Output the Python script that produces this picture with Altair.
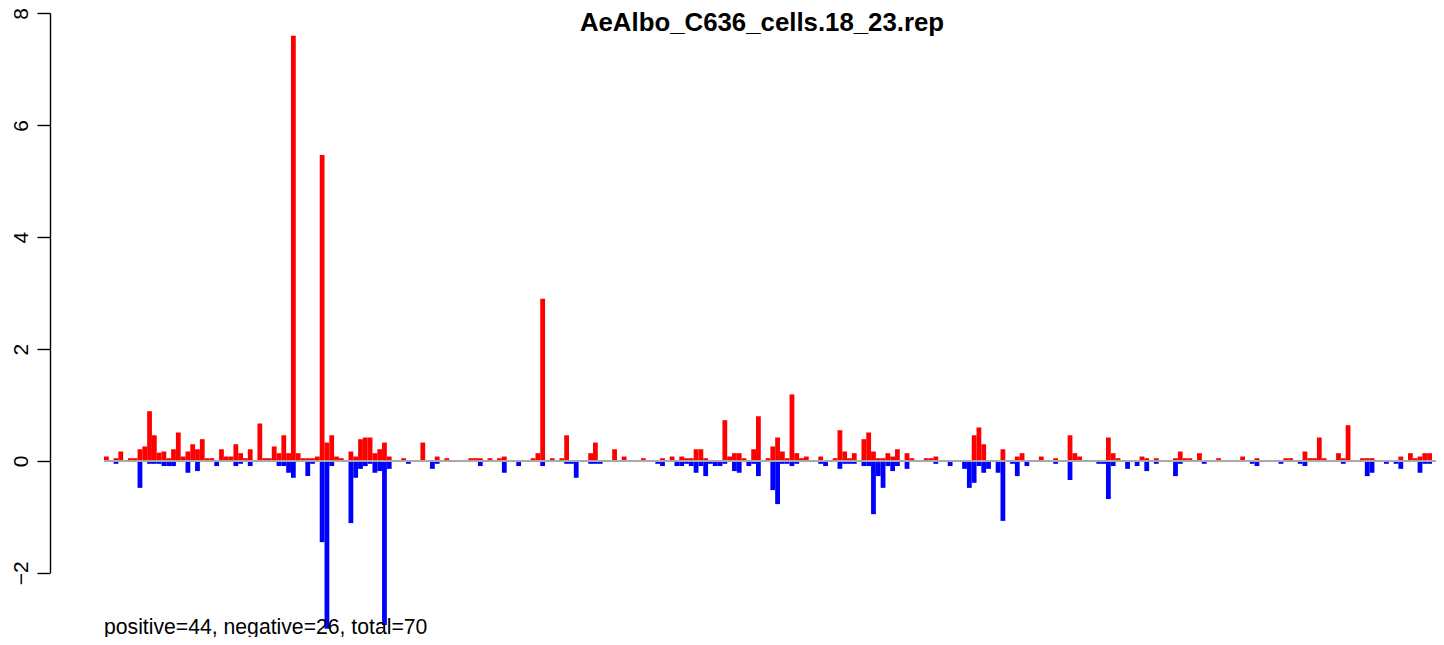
import altair as alt
import pandas as pd

title_text = "AeAlbo_C636_cells.18_23.rep"
note_text = "positive=44, negative=26, total=70"
n_bins = 277
y_ticks = [-2, 0, 2, 4, 6, 8]

# red (positive strand) bars: bin index and height
plus_idx = [0, 2, 3, 5, 6, 7, 8, 9, 10, 11, 12, 13, 14, 15, 16, 17, 18, 19, 20, 21,
            22, 24, 25, 26, 27, 28, 29, 30, 32, 33, 34, 35, 36, 37, 38, 39, 40, 41, 42, 43,
            44, 45, 46, 47, 48, 49, 51, 52, 53, 54, 55, 56, 57, 58, 59, 62, 66, 69, 71, 76,
            77, 78, 80, 82, 83, 89, 90, 91, 93, 95, 96, 101, 102, 106, 108, 112, 116, 118, 120, 121,
            122, 123, 124, 125, 129, 130, 131, 132, 133, 135, 136, 138, 139, 140, 141, 142, 143, 144, 145, 146,
            149, 152, 153, 154, 155, 156, 158, 159, 160, 161, 162, 163, 164, 165, 167, 168, 171, 172, 173, 181,
            182, 183, 187, 190, 191, 195, 198, 201, 202, 203, 209, 210, 211, 216, 217, 219, 223, 224, 225, 226,
            228, 232, 237, 240, 246, 247, 250, 251, 252, 253, 254, 257, 258, 259, 262, 263, 264, 270, 272, 273,
            274, 275, 276]
plus_val = [0.08, 0.05, 0.17, 0.05, 0.05, 0.21, 0.26, 0.89, 0.46, 0.15, 0.17, 0.05, 0.21, 0.51, 0.08, 0.17, 0.30, 0.21, 0.39, 0.05,
            0.05, 0.21, 0.08, 0.08, 0.30, 0.14, 0.05, 0.21, 0.67, 0.05, 0.05, 0.26, 0.14, 0.46, 0.14, 7.60, 0.14, 0.05, 0.05, 0.05,
            0.08, 5.47, 0.33, 0.46, 0.08, 0.05, 0.17, 0.08, 0.39, 0.42, 0.42, 0.14, 0.21, 0.33, 0.08, 0.05, 0.33, 0.08, 0.05, 0.05,
            0.05, 0.05, 0.05, 0.05, 0.08, 0.05, 0.14, 2.90, 0.05, 0.05, 0.46, 0.14, 0.33, 0.21, 0.08, 0.05, 0.05, 0.08, 0.08, 0.05,
            0.05, 0.21, 0.21, 0.05, 0.73, 0.08, 0.14, 0.14, 0.05, 0.21, 0.80, 0.05, 0.26, 0.42, 0.17, 0.05, 1.19, 0.14, 0.05, 0.08,
            0.08, 0.05, 0.55, 0.17, 0.05, 0.14, 0.39, 0.51, 0.17, 0.05, 0.05, 0.14, 0.08, 0.21, 0.14, 0.05, 0.05, 0.05, 0.08, 0.46,
            0.60, 0.30, 0.21, 0.08, 0.14, 0.08, 0.05, 0.46, 0.14, 0.08, 0.42, 0.14, 0.05, 0.08, 0.05, 0.05, 0.05, 0.17, 0.05, 0.05,
            0.14, 0.05, 0.08, 0.05, 0.05, 0.05, 0.17, 0.05, 0.05, 0.42, 0.05, 0.14, 0.05, 0.64, 0.05, 0.05, 0.05, 0.08, 0.14, 0.05,
            0.08, 0.14, 0.14]

# blue (negative strand) bars: bin index and depth
minus_idx = [2, 7, 9, 10, 11, 12, 13, 14, 17, 19, 23, 27, 28, 30, 36, 37, 38, 39, 42, 43,
             45, 46, 47, 51, 52, 53, 54, 55, 56, 57, 58, 59, 63, 68, 69, 78, 83, 86, 91, 96,
             97, 98, 101, 102, 103, 115, 116, 119, 120, 121, 122, 123, 124, 125, 126, 127, 128, 129, 131, 132,
             134, 135, 136, 139, 140, 141, 142, 143, 144, 149, 150, 153, 154, 155, 156, 158, 159, 160, 161, 162,
             163, 164, 165, 167, 173, 176, 179, 180, 181, 182, 183, 184, 186, 187, 189, 190, 192, 198, 201, 207,
             208, 209, 210, 213, 215, 217, 219, 223, 224, 229, 239, 240, 245, 249, 250, 258, 263, 264, 267, 269,
             270, 274, 275, 276]
minus_val = [0.05, 0.48, 0.05, 0.05, 0.05, 0.09, 0.09, 0.09, 0.21, 0.18, 0.09, 0.09, 0.05, 0.09, 0.09, 0.09, 0.21, 0.30, 0.27, 0.05,
             1.45, 3.00, 0.09, 1.11, 0.30, 0.14, 0.09, 0.05, 0.21, 0.18, 2.93, 0.14, 0.05, 0.14, 0.05, 0.09, 0.21, 0.09, 0.09, 0.05,
             0.05, 0.30, 0.05, 0.05, 0.05, 0.05, 0.09, 0.09, 0.09, 0.05, 0.09, 0.21, 0.09, 0.27, 0.05, 0.09, 0.09, 0.05, 0.18, 0.21,
             0.09, 0.05, 0.27, 0.52, 0.77, 0.05, 0.05, 0.09, 0.05, 0.05, 0.09, 0.14, 0.05, 0.05, 0.05, 0.09, 0.09, 0.95, 0.27, 0.48,
             0.09, 0.18, 0.09, 0.14, 0.05, 0.09, 0.14, 0.48, 0.39, 0.09, 0.21, 0.14, 0.21, 1.07, 0.05, 0.27, 0.09, 0.05, 0.34, 0.05,
             0.05, 0.68, 0.09, 0.14, 0.09, 0.18, 0.05, 0.27, 0.05, 0.05, 0.05, 0.09, 0.05, 0.05, 0.09, 0.05, 0.27, 0.21, 0.05, 0.05,
             0.14, 0.21, 0.05, 0.05]

rows = []
for i, v in zip(plus_idx, plus_val):
    rows.append({"i": i, "i2": i + 1, "v": v, "base": 0, "strand": "plus"})
for i, v in zip(minus_idx, minus_val):
    rows.append({"i": i, "i2": i + 1, "v": -v, "base": 0, "strand": "minus"})
df = pd.DataFrame(rows)

FONT = "Liberation Sans"
PLOT_W = 1386
PLOT_H = 629

xscale = alt.Scale(domain=[-11.264, 277.84], nice=False, zero=False)
yscale = alt.Scale(domain=[-3.146, 8.098], nice=False, zero=False)

bars = alt.Chart(df).mark_rect(strokeWidth=0).encode(
    x=alt.X("i:Q", scale=xscale, axis=None),
    x2="i2:Q",
    y=alt.Y("v:Q", scale=yscale, axis=alt.Axis(
        values=y_ticks, domain=False, grid=False, tickSize=13, tickColor="black",
        tickWidth=1.4, labelAngle=270, labelAlign="center", labelBaseline="alphabetic",
        labelPadding=10, labelFont=FONT, labelFontSize=21, labelColor="black",
        title=None, format="d")),
    y2="base:Q",
    color=alt.Color("strand:N", scale=alt.Scale(domain=["plus", "minus"],
                                                range=["#ff0000", "#0000ff"]), legend=None),
)

zero_df = pd.DataFrame({"start": [0], "level": [0]})
zero_line = alt.Chart(zero_df).mark_rule(color="#a9a9a9", strokeWidth=2).encode(
    x=alt.X("start:Q", scale=xscale),
    x2=alt.value(PLOT_W),
    y=alt.Y("level:Q", scale=yscale),
)

axis_df = pd.DataFrame({"lo": [min(y_ticks)], "hi": [max(y_ticks)]})
axis_line = alt.Chart(axis_df).mark_rule(color="black", strokeWidth=1.4).encode(
    x=alt.value(0.5),
    y=alt.Y("lo:Q", scale=yscale),
    y2="hi:Q",
)

note_df = pd.DataFrame({"t": [note_text]})
note = alt.Chart(note_df).mark_text(
    align="left", baseline="alphabetic", font=FONT, fontSize=21.2, color="black"
).encode(x=alt.value(54), y=alt.value(626), text="t:N")

title_df = pd.DataFrame({"t": [title_text]})
title = alt.Chart(title_df).mark_text(
    align="center", baseline="alphabetic", font=FONT, fontSize=25.8, fontWeight="bold",
    color="black"
).encode(x=alt.value(712), y=alt.value(23), text="t:N")

chart = alt.layer(bars, zero_line, axis_line, note, title).properties(
    width=PLOT_W,
    height=PLOT_H,
    autosize=alt.AutoSizeParams(type="none"),
    padding={"left": 42, "top": 0, "right": 0, "bottom": 0},
    background="white",
).configure_view(stroke=None)

chart.save("out.html", embed_options={"renderer": "svg", "actions": False})
